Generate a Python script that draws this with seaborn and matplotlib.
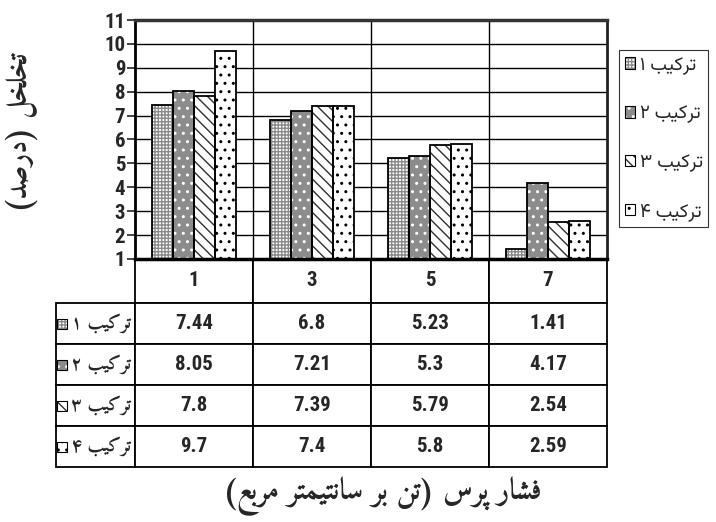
import matplotlib
matplotlib.use("Agg")
import matplotlib.pyplot as plt
import seaborn as sns
import pandas as pd
from matplotlib import font_manager
from matplotlib.patches import Patch, Rectangle
from matplotlib.legend_handler import HandlerTuple

# data
pressures = ["1", "3", "5", "7"]
mixes = ["ترکیب ۱", "ترکیب ۲", "ترکیب ۳", "ترکیب ۴"]
mix1 = [7.44, 6.8, 5.23, 1.41]
mix2 = [8.05, 7.21, 5.3, 4.17]
mix3 = [7.8, 7.39, 5.79, 2.54]
mix4 = [9.7, 7.4, 5.8, 2.59]
y_ticks = list(range(1, 12))
y_label = "تخلخل (درصد)"
x_label = "فشار پرس (تن بر سانتیمتر مربع)"

# matplotlib has no arabic shaping, so pick presentation forms by hand
FORMS = {
    'ا': ('\uFE8D', '\uFE8E', None, None),
    'ب': ('\uFE8F', '\uFE90', '\uFE91', '\uFE92'),
    'پ': ('\uFB56', '\uFB57', '\uFB58', '\uFB59'),
    'ت': ('\uFE95', '\uFE96', '\uFE97', '\uFE98'),
    'خ': ('\uFEA5', '\uFEA6', '\uFEA7', '\uFEA8'),
    'د': ('\uFEA9', '\uFEAA', None, None),
    'ر': ('\uFEAD', '\uFEAE', None, None),
    'س': ('\uFEB1', '\uFEB2', '\uFEB3', '\uFEB4'),
    'ش': ('\uFEB5', '\uFEB6', '\uFEB7', '\uFEB8'),
    'ص': ('\uFEB9', '\uFEBA', '\uFEBB', '\uFEBC'),
    'ع': ('\uFEC9', '\uFECA', '\uFECB', '\uFECC'),
    'ف': ('\uFED1', '\uFED2', '\uFED3', '\uFED4'),
    'ل': ('\uFEDD', '\uFEDE', '\uFEDF', '\uFEE0'),
    'م': ('\uFEE1', '\uFEE2', '\uFEE3', '\uFEE4'),
    'ن': ('\uFEE5', '\uFEE6', '\uFEE7', '\uFEE8'),
    'ک': ('\uFB8E', '\uFB8F', '\uFB90', '\uFB91'),
    'ی': ('\uFBFC', '\uFBFD', '\uFBFE', '\uFBFF'),
}


def rtl(text):
    out = []
    for i, ch in enumerate(text):
        if ch not in FORMS:
            out.append(ch)
            continue
        prev = text[i - 1] if i > 0 else ''
        nxt = text[i + 1] if i + 1 < len(text) else ''
        join_prev = prev in FORMS and FORMS[prev][2] is not None
        join_next = FORMS[ch][2] is not None and nxt in FORMS
        iso, fin, ini, med = FORMS[ch]
        if join_prev and join_next:
            out.append(med)
        elif join_prev:
            out.append(fin)
        elif join_next:
            out.append(ini)
        else:
            out.append(iso)
    vis = ''.join(reversed(out))
    return vis.translate(str.maketrans('()', ')('))


def pick(names, bold=False):
    for n in names:
        for f in font_manager.fontManager.ttflist:
            w = f.weight if isinstance(f.weight, int) else (700 if 'bold' in str(f.weight) else 400)
            if f.name == n and (not bold or w >= 700):
                return n
    return 'DejaVu Sans'


sns.set_style("white")
plt.rcParams['font.family'] = ['DejaVu Sans']
plt.rcParams['hatch.linewidth'] = 1.0

num_font = pick(['Liberation Sans Narrow', 'Arial Narrow', 'Roboto Condensed',
                 'IBM Plex Sans Condensed', 'Fira Sans Condensed'], bold=True)
naskh = [pick(['Amiri'], bold=True), 'DejaVu Sans']
plain_fa = [pick(['Vazirmatn']), 'DejaVu Sans']

# face colour, hatch, hatch colour per mix
styles = [
    ('white', '+++++', '#8a8a8a'),
    ('#8c8c8c', '..', 'white'),
    ('white', '\\\\\\', '#303030'),
    ('white', '..', 'black'),
]

W, H = 716, 522
fig = plt.figure(figsize=(W / 100, H / 100), dpi=100)
ax_l, ax_t, ax_r, ax_b = 135, 20, 607, 259
ax = fig.add_axes([ax_l / W, 1 - ax_b / H, (ax_r - ax_l) / W, (ax_b - ax_t) / H])
aw, ah = ax_r - ax_l, ax_b - ax_t

df = pd.DataFrame({
    'pressure': pressures * 4,
    'mix': [m for m in mixes for _ in pressures],
    'value': mix1 + mix2 + mix3 + mix4,
})
sns.barplot(data=df, x='pressure', y='value', hue='mix', order=pressures,
            hue_order=mixes, width=0.72, gap=0, saturation=1, errorbar=None,
            legend=False, ax=ax)

for cont, (face, hatch, hc) in zip(ax.containers, styles):
    for bar in cont:
        bar.set_facecolor(face)
        bar.set_hatch(hatch)
        bar.set_edgecolor(hc)
        bar.set_linewidth(0)
        ax.add_patch(Rectangle(bar.get_xy(), bar.get_width(), bar.get_height(),
                               fill=False, edgecolor='black', lw=1.3, zorder=4))

ax.set_xlim(-0.5, 3.5)
ax.set_ylim(1, 11)
ax.set_yticks(y_ticks)
ax.set_xticks([0.5, 1.5, 2.5], minor=True)
ax.set_axisbelow(True)
ax.yaxis.grid(True, color='black', lw=1)
ax.xaxis.grid(True, which='minor', color='black', lw=1)
ax.xaxis.grid(False, which='major')
ax.tick_params(axis='x', which='both', length=0, labelbottom=False)
ax.tick_params(axis='y', length=6, width=1.2, direction='out', pad=1,
               labelsize=15, left=True)
for t in ax.get_yticklabels():
    t.set_fontfamily(num_font)
    t.set_fontweight('bold')
ax.set_xlabel('')
ax.set_ylabel('')
for side, lw, col in [('left', 2, 'black'), ('bottom', 2.5, 'black'),
                      ('top', 2.5, '#333333'), ('right', 2, '#222222')]:
    ax.spines[side].set_linewidth(lw)
    ax.spines[side].set_color(col)

# data table under the plot
all_vals = [mix1, mix2, mix3, mix4]
cell_text = [[rtl(m)] + [f"{v:g}" for v in vals] for m, vals in zip(mixes, all_vals)]
lab_w = 79
tab_h = 208
tab = ax.table(cellText=cell_text, colLabels=[''] + pressures,
               colWidths=[lab_w / aw] + [0.25] * 4, cellLoc='center',
               bbox=[-lab_w / aw, -tab_h / ah, (aw + lab_w) / aw, tab_h / ah])
tab.auto_set_font_size(False)
for (r, c), cell in tab.get_celld().items():
    cell.set_height(44 if r == 0 else 41)
    cell.set_linewidth(1.3)
    cell.set_edgecolor('black')
    txt = cell.get_text()
    if r == 0 and c == 0:
        cell.visible_edges = ''
    elif c == 0:
        txt.set_ha('right')
        cell._loc = 'right'
        cell.PAD = 0.05
        txt.set_fontfamily(naskh)
        txt.set_fontweight('bold')
        txt.set_fontsize(13.5)
    else:
        txt.set_fontfamily(num_font)
        txt.set_fontweight('bold')
        txt.set_fontsize(15)

# legend keys inside the row label cells
for i, (face, hatch, hc) in enumerate(styles):
    yc = 303 + 41 * i + 20.5
    kx = (57 - ax_l) / aw
    ky = (ax_b - yc - 5) / ah
    ax.add_patch(Rectangle((kx, ky), 10 / aw, 10 / ah, transform=ax.transAxes,
                           facecolor=face, hatch=hatch, edgecolor=hc, lw=0,
                           clip_on=False))
    ax.add_patch(Rectangle((kx, ky), 10 / aw, 10 / ah, transform=ax.transAxes,
                           fill=False, edgecolor='black', lw=0.8, clip_on=False))

handles = [(Patch(facecolor=f, hatch=h, edgecolor=c, lw=0),
            Patch(fill=False, edgecolor='black', lw=0.8)) for f, h, c in styles]
leg = fig.legend(handles, [rtl(m) for m in mixes],
                 handler_map={tuple: HandlerTuple(ndivide=1, pad=0)},
                 loc='upper left', bbox_to_anchor=(619 / W, 1 - 50 / H),
                 frameon=True, fancybox=False, edgecolor='black',
                 prop=dict(family=plain_fa, size=13.5),
                 handlelength=0.55, handleheight=0.55, handletextpad=0.25,
                 labelspacing=1.6, borderpad=0.3, borderaxespad=0)
leg.get_frame().set_linewidth(0.8)

fig.text(22 / W, 1 - 132 / H, rtl(y_label), rotation=90, ha='center', va='center',
         fontsize=21, fontweight='bold', family=naskh)
fig.text(382 / W, 1 - 496 / H, rtl(x_label), ha='center', va='center',
         fontsize=21.5, fontweight='bold', family=naskh)

fig.savefig('out.png', dpi=100)
